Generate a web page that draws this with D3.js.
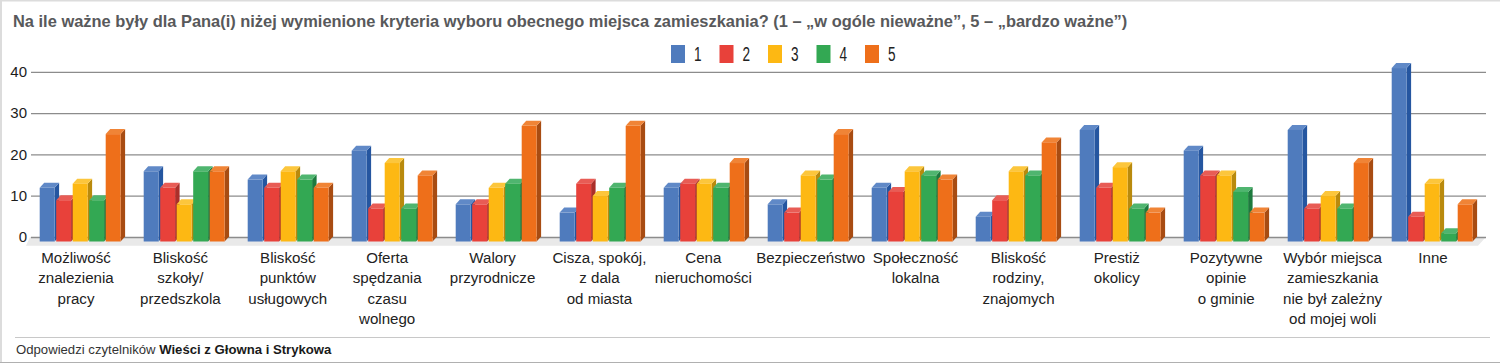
<!DOCTYPE html>
<html lang="pl">
<head>
    <meta charset="UTF-8">
    <title>Kryteria wyboru miejsca zamieszkania</title>
    <style>
        html, body { margin: 0; padding: 0; background: #fff; overflow: hidden; }
        svg { display: block; font-family: "Liberation Sans", Arial, sans-serif; }
        .grid .domain { display: none; }
        .grid line { stroke: #8c8c8c; stroke-width: 1.3px; }
        .grid text { font-size: 15px; fill: #1c1c1c; }
        .cat { font-size: 15.1px; fill: #222; text-anchor: middle; }
        .legend-label { font-size: 20px; fill: #222; }
    </style>
</head>
<body>
<div id="chart"></div>
<script src="https://cdn.jsdelivr.net/npm/d3@7"></script>
<script>
    var categories = [
        ["Możliwość", "znalezienia", "pracy"],
        ["Bliskość", "szkoły/", "przedszkola"],
        ["Bliskość", "punktów", "usługowych"],
        ["Oferta", "spędzania", "czasu", "wolnego"],
        ["Walory", "przyrodnicze"],
        ["Cisza, spokój,", "z dala", "od miasta"],
        ["Cena", "nieruchomości"],
        ["Bezpieczeństwo"],
        ["Społeczność", "lokalna"],
        ["Bliskość", "rodziny,", "znajomych"],
        ["Prestiż", "okolicy"],
        ["Pozytywne", "opinie", "o gminie"],
        ["Wybór miejsca", "zamieszkania", "nie był zależny", "od mojej woli"],
        ["Inne"]
    ];
    var seriesNames = ["1", "2", "3", "4", "5"];
    var series1 = [13, 17, 15, 22, 9, 7, 13, 9, 13, 6, 27, 22, 27, 42];
    var series2 = [10, 13, 13, 8, 9, 14, 14, 7, 12, 10, 13, 16, 8, 6];
    var series3 = [14, 9, 17, 19, 13, 11, 14, 16, 17, 17, 18, 16, 11, 14];
    var series4 = [10, 17, 15, 8, 14, 13, 13, 15, 16, 16, 8, 12, 8, 2];
    var series5 = [26, 17, 13, 16, 28, 28, 19, 26, 15, 24, 7, 7, 19, 9];
    var yTicks = [0, 10, 20, 30, 40];

    var frontColors = ["#4f7bbd", "#e8413a", "#fdb813", "#33a853", "#ee6f1a"];
    var sideColors = ["#2556a0", "#ab2f2a", "#b98a0d", "#1d7a3e", "#a84c12"];
    var topColors = ["#6089c7", "#e85c55", "#fcc63c", "#4fb56f", "#f08436"];

    var width = 1500, height = 363;
    var depthX = 4.5, depthY = 5;
    var allSeries = [series1, series2, series3, series4, series5];
    // the labels in the original were placed by hand, not quite evenly
    var labelNudge = [0, 0, 3, -2, -1, 1.5, 1, 4, 4.5, 3, -3, 2, 4, 0];

    var svg = d3.select("#chart").append("svg")
        .attr("width", width)
        .attr("height", height);

    // 外框 page frame: left and top are light, bottom is darker
    svg.append("path")
        .attr("d", "M1,363V0.5H1500")
        .attr("fill", "none")
        .attr("stroke", "#dcdcdc")
        .attr("stroke-width", 2);
    svg.append("line")
        .attr("x1", 0).attr("x2", width)
        .attr("y1", 362.5).attr("y2", 362.5)
        .attr("stroke", "#b0b0b0");

    var title = "Na ile ważne były dla Pana(i) niżej wymienione kryteria wyboru obecnego miejsca zamieszkania? (1 – „w ogóle nieważne”, 5 – „bardzo ważne”)";
    svg.append("text")
        .attr("x", 13)
        .attr("y", 27)
        .attr("font-size", 16.43)
        .attr("font-weight", "bold")
        .attr("fill", "#58595b")
        .text(title);

    var y = d3.scaleLinear().domain([0, 40]).range([237, 71.8]);
    var groupX = d3.scaleBand()
        .domain(d3.range(categories.length))
        .range([39.7, 39.7 + 104 * categories.length])
        .paddingInner(0)
        .paddingOuter(0);
    var barX = d3.scaleBand()
        .domain(d3.range(seriesNames.length))
        .range([0, 82.5]);
    var labelX = d3.scaleLinear().domain([0, categories.length - 1]).range([76, 1433]);

    // 地面 floor
    var floorY = y(0);
    svg.append("path")
        .attr("d", "M30," + floorY + "H1486L1478," + (floorY + 8.7) + "H26Z")
        .attr("fill", "#e9e9e9");

    // 网格线 grid and y labels
    var yAxis = d3.axisLeft(y)
        .tickValues(yTicks)
        .tickSize(-(1486 - 31))
        .tickPadding(4);
    svg.append("g")
        .attr("class", "grid")
        .attr("transform", "translate(31,0)")
        .call(yAxis);

    // 柱子 bars
    var groups = svg.selectAll("g.group")
        .data(categories)
        .enter()
        .append("g")
        .attr("class", "group")
        .attr("transform", function (d, i) {
            return "translate(" + groupX(i) + ",0)";
        });

    var bars = groups.selectAll("g.bar")
        .data(function (d, i) {
            return allSeries.map(function (s, k) {
                return {k: k, value: s[i]};
            });
        })
        .enter()
        .append("g")
        .attr("class", "bar");

    var barW = barX.bandwidth() - 1.6;
    var base = y(0) + depthY - 0.5;

    function frontTop(d) {
        return y(d.value) + depthY - 0.5;
    }

    bars.append("path")
        .attr("fill", function (d) { return sideColors[d.k]; })
        .attr("d", function (d) {
            var x1 = barX(d.k) + barW, t = frontTop(d);
            return "M" + x1 + "," + t + "l" + depthX + "," + (-depthY) +
                "V" + (base - depthY) + "L" + x1 + "," + base + "Z";
        });
    bars.append("path")
        .attr("fill", function (d) { return topColors[d.k]; })
        .attr("d", function (d) {
            var x0 = barX(d.k), t = frontTop(d);
            return "M" + x0 + "," + t + "l" + depthX + "," + (-depthY) +
                "h" + barW + "l" + (-depthX) + "," + depthY + "Z";
        });
    bars.append("rect")
        .attr("fill", function (d) { return frontColors[d.k]; })
        .attr("x", function (d) { return barX(d.k); })
        .attr("y", frontTop)
        .attr("width", barW)
        .attr("height", function (d) { return base - frontTop(d); });

    // 类别标签 category labels
    var labels = svg.selectAll("text.cat")
        .data(categories)
        .enter()
        .append("text")
        .attr("class", "cat");
    labels.selectAll("tspan")
        .data(function (d, i) {
            return d.map(function (line, n) {
                return {line: line, n: n, i: i};
            });
        })
        .enter()
        .append("tspan")
        .attr("x", function (d) { return labelX(d.i) + labelNudge[d.i]; })
        .attr("y", function (d) { return 263 + d.n * 20.3; })
        .text(function (d) { return d.line; });

    // 图例 legend
    var legendX = d3.scalePoint().domain(seriesNames).range([671, 865]);
    var legend = svg.selectAll("g.legend")
        .data(seriesNames)
        .enter()
        .append("g")
        .attr("class", "legend")
        .attr("transform", function (d) {
            return "translate(" + legendX(d) + ",45)";
        });
    legend.append("rect")
        .attr("width", 14)
        .attr("height", 18)
        .attr("fill", function (d, i) { return frontColors[i]; });
    legend.append("text")
        .attr("class", "legend-label")
        .attr("transform", "translate(23,16) scale(0.68,1)")
        .text(function (d) { return d; });

    // 页脚 footer
    svg.append("line")
        .attr("x1", 15).attr("x2", 1490)
        .attr("y1", 337.5).attr("y2", 337.5)
        .attr("stroke", "#c8c8c8");
    var foot = svg.append("text")
        .attr("x", 16)
        .attr("y", 354)
        .attr("font-size", 13.15)
        .attr("fill", "#333");
    foot.append("tspan").text("Odpowiedzi czytelników ");
    foot.append("tspan")
        .attr("font-weight", "bold")
        .attr("fill", "#1a1a1a")
        .text("Wieści z Głowna i Strykowa");
</script>
</body>
</html>
